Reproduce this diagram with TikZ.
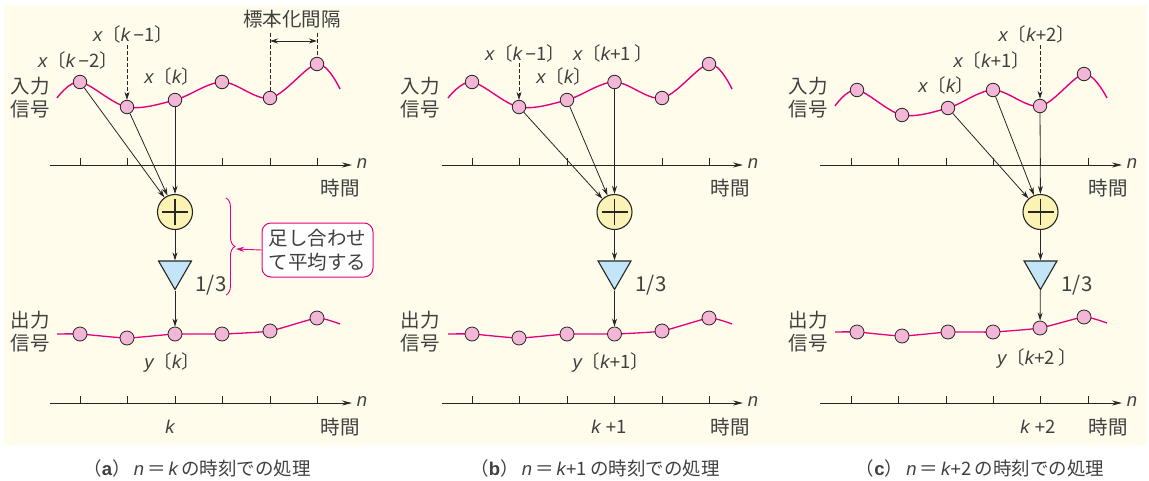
\documentclass[tikz,border=0pt]{standalone}
\usepackage{fontspec}
\setmainfont{Noto Sans CJK JP}
\newfontfamily\latf{Liberation Sans}
\usetikzlibrary{arrows.meta,shapes.geometric,decorations.pathreplacing}
\definecolor{bgcream}{HTML}{FFFCEB}
\definecolor{sigpink}{HTML}{E4007F}
\definecolor{ptpink}{HTML}{F4B6D6}
\definecolor{addyel}{HTML}{FBF3B3}
\definecolor{ampblue}{HTML}{C3E5F8}
\definecolor{ink}{HTML}{262626}
\definecolor{txt}{HTML}{404040}
\newcommand{\vi}[1]{{\latf\itshape #1}}
\newcommand{\lb}{〔}
\newcommand{\rb}{〕}
\newcommand{\mn}{\,{\latf −}}
\newcommand{\pl}{{\latf +}}
\begin{document}
\begin{tikzpicture}[x=1pt,y=-1pt,
  sig/.style={draw=sigpink,line width=1.4pt},
  smp/.style={circle,draw=ink,fill=ptpink,minimum size=13.5pt,inner sep=0pt,line width=0.8pt},
  osmp/.style={circle,draw=ink,fill=ptpink,minimum size=14pt,inner sep=0pt,line width=0.8pt},
  adder/.style={circle,draw=ink,fill=addyel,minimum size=35pt,inner sep=0pt,line width=1.1pt},
  amp/.style={regular polygon,regular polygon sides=3,shape border rotate=180,draw=ink,fill=ampblue,minimum size=38pt,inner sep=0pt,line width=1.1pt},
  conn/.style={draw=ink,line width=0.8pt,-{Stealth[length=8pt,width=5pt]}},
  dconn/.style={draw=ink,line width=0.8pt,dash pattern=on 3.5pt off 2.5pt,-{Stealth[length=8pt,width=5pt]}},
  dline/.style={draw=ink,line width=0.8pt,dash pattern=on 3.5pt off 2.5pt},
  axis/.style={draw=ink,line width=0.8pt,-{Stealth[length=10pt,width=5pt]}},
  tickln/.style={draw=ink,line width=0.7pt},
  lab/.style={text=txt,font=\fontsize{18.5}{20}\selectfont,inner sep=0pt},
  nlab/.style={text=txt,font=\fontsize{18.5}{20}\selectfont,inner sep=0pt},
  jlab/.style={text=txt,font=\fontsize{19.5}{23}\selectfont,inner sep=0pt,align=center},
  glab/.style={text=txt,font=\fontsize{20.5}{22}\selectfont,inner sep=0pt},
  captxt/.style={text=txt,font=\fontsize{18.5}{20}\selectfont,inner sep=0pt},
]
\useasboundingbox (0,0) rectangle (1149,480);
\fill[bgcream] (4,5) rectangle (1146,445);

% ================= panel (a) =================
\draw[sig] plot[smooth,tension=0.55] coordinates {(57,98) (80,82) (127,107) (175,100) (222,82) (270,98) (317,64) (340,89)};
\node[smp] (a1) at (80,82) {};
\node[smp] (a2) at (127,107) {};
\node[smp] (a3) at (175,100) {};
\node[smp] (a4) at (222,82) {};
\node[smp] (a5) at (270,98) {};
\node[smp] (a6) at (317,64) {};
\node[jlab] (inA) at (30,97.5) {入力\\信号};
\node[lab] (la1) at (78,60) {\vi{x}\lb\vi{k}\mn2\rb};
\node[lab] (la2) at (133,34) {\vi{x}\lb\vi{k}\mn1\rb};
\node[lab] (la3) at (172,76) {\vi{x}\lb\vi{k}\rb};
\coordinate (da2) at (127,45);
\draw[dconn] (da2) -- (a2);
\node[jlab] (hyo) at (292,19) {標本化間隔};
\coordinate (ia5) at (270,33);
\coordinate (ia6) at (317,33);
\draw[dline] (ia5) -- (a5);
\draw[dline] (ia6) -- (a6);
\coordinate (ha5) at (270,41);
\coordinate (ha6) at (317,41);
\draw[draw=ink,line width=0.8pt,{Stealth[length=8pt,width=5pt]}-{Stealth[length=8pt,width=5pt]}] (ha5) -- (ha6);
\coordinate (axAs) at (50,165); \coordinate (axAe) at (352,165);
\draw[axis] (axAs) -- (axAe);
\foreach \t in {80,127.5,175,222.5,270,317} \draw[tickln] (\t,158) -- (\t,165);
\node[nlab] (nA) at (362,164) {\vi{n}};
\node[jlab] (tA) at (340,188) {時間};
\node[adder] (addA) at (175,212) {};
\draw[ink,line width=1.2pt] (162,212) -- (188,212) (175,199) -- (175,225);
\draw[conn] (a1) -- (addA);
\draw[conn] (a2) -- (addA);
\draw[conn] (a3) -- (addA);
\node[amp] (ampA) at (175,270.5) {};
\node[glab] (gA) at (211,285) {1/3};
\draw[conn] (addA) -- (ampA);
\draw[sig,line width=1.3pt] plot[smooth,tension=0.3] coordinates {(57,334) (80,334) (127,338) (175,334) (222,334) (270,331) (317,318) (340,324)};
\node[osmp] (ya1) at (80,334) {};
\node[osmp] (ya2) at (127,338) {};
\node[osmp] (ya3) at (175,334) {};
\node[osmp] (ya4) at (222,334) {};
\node[osmp] (ya5) at (270,331) {};
\node[osmp] (ya6) at (317,318) {};
\draw[conn] (ampA) -- (ya3);
\node[jlab] (outA) at (30,331.5) {出力\\信号};
\node[lab] (lya) at (172,362) {\vi{y}\lb\vi{k}\rb};
\coordinate (bxAs) at (50,403); \coordinate (bxAe) at (352,403);
\draw[axis] (bxAs) -- (bxAe);
\foreach \t in {80,127.5,175,222.5,270,317} \draw[tickln] (\t,396) -- (\t,403);
\node[nlab] (nA2) at (362,402) {\vi{n}};
\node[jlab] (tA2) at (340,427) {時間};
\node[lab] (kA) at (170,427) {\vi{k}};
% brace and note
\coordinate (brT) at (226,198);
\coordinate (brB) at (226,295);
\draw[sigpink,line width=0.9pt,decorate,decoration={brace,amplitude=9pt}] (brT) -- (brB);
\coordinate (brTip) at (236,249);
\node[draw=sigpink,fill=white,rounded corners=9pt,line width=1pt,minimum width=111pt,minimum height=54pt,
  text=txt,font=\fontsize{19.5}{23.5}\selectfont,align=left,inner sep=0pt] (note) at (317.5,250) {足し合わせ\\て平均する};
\draw[draw=sigpink,line width=0.9pt,-{Stealth[length=8pt,width=5pt]}] (note.west) -- (brTip);

% ================= panel (b) =================
\draw[sig] plot[smooth,tension=0.55] coordinates {(448,98) (472,82) (519,107) (567,100) (614,82) (662,98) (709,64) (732,89)};
\node[smp] (b1) at (472,82) {};
\node[smp] (b2) at (519,107) {};
\node[smp] (b3) at (567,100) {};
\node[smp] (b4) at (614.5,82) {};
\node[smp] (b5) at (662,98) {};
\node[smp] (b6) at (709,64) {};
\node[jlab] (inB) at (420,97.5) {入力\\信号};
\node[lab] (lb2) at (525,53) {\vi{x}\lb\vi{k}\mn1\rb};
\node[lab] (lb4) at (613,53) {\vi{x}\lb\vi{k}\pl1\,\rb};
\node[lab] (lb3) at (564,76) {\vi{x}\lb\vi{k}\rb};
\coordinate (db2) at (519,63);
\draw[dconn] (db2) -- (b2);
\coordinate (axBs) at (442,165); \coordinate (axBe) at (743,165);
\draw[axis] (axBs) -- (axBe);
\foreach \t in {472,519.5,567,614.5,662,709.5} \draw[tickln] (\t,158) -- (\t,165);
\node[nlab] (nB) at (753,164) {\vi{n}};
\node[jlab] (tB) at (730,188) {時間};
\node[adder] (addB) at (614.5,212) {};
\draw[ink,line width=1.2pt] (601.5,212) -- (627.5,212) (614.5,199) -- (614.5,225);
\draw[conn] (b2) -- (addB);
\draw[conn] (b3) -- (addB);
\draw[conn] (b4) -- (addB);
\node[amp] (ampB) at (614.5,270.5) {};
\node[glab] (gB) at (651,285) {1/3};
\draw[conn] (addB) -- (ampB);
\draw[sig,line width=1.3pt] plot[smooth,tension=0.3] coordinates {(448,334) (472,334) (519,338) (567,334) (614.5,334) (662,331) (709,318) (732,324)};
\node[osmp] (yb1) at (472,334) {};
\node[osmp] (yb2) at (519,338) {};
\node[osmp] (yb3) at (567,334) {};
\node[osmp] (yb4) at (614.5,334) {};
\node[osmp] (yb5) at (662,331) {};
\node[osmp] (yb6) at (709,318) {};
\draw[conn] (ampB) -- (yb4);
\node[jlab] (outB) at (420,331.5) {出力\\信号};
\node[lab] (lyb) at (611,362) {\vi{y}\lb\vi{k}\pl1\rb};
\coordinate (bxBs) at (442,403); \coordinate (bxBe) at (743,403);
\draw[axis] (bxBs) -- (bxBe);
\foreach \t in {472,519.5,567,614.5,662,709.5} \draw[tickln] (\t,396) -- (\t,403);
\node[nlab] (nB2) at (753,402) {\vi{n}};
\node[jlab] (tB2) at (730,427) {時間};
\node[lab] (kB) at (609,427) {\vi{k}\;\pl1};

% ================= panel (c) =================
\draw[sig] plot[smooth,tension=0.55] coordinates {(835,106) (857,90) (902,115) (948,108) (993,90) (1040,106) (1084,74) (1107,98)};
\node[smp] (c1) at (857,90) {};
\node[smp] (c2) at (902,115) {};
\node[smp] (c3) at (948,108) {};
\node[smp] (c4) at (993,90) {};
\node[smp] (c5) at (1040,106) {};
\node[smp] (c6) at (1084,74) {};
\node[jlab] (inC) at (808,97.5) {入力\\信号};
\node[lab] (lc5) at (1037,34) {\vi{x}\lb\vi{k}\pl2\rb};
\node[lab] (lc4) at (992,60) {\vi{x}\lb\vi{k}\pl1\rb};
\node[lab] (lc3) at (946,85) {\vi{x}\lb\vi{k}\rb};
\coordinate (dc5) at (1040,45);
\draw[dconn] (dc5) -- (c5);
\coordinate (axCs) at (820,165); \coordinate (axCe) at (1122,165);
\draw[axis] (axCs) -- (axCe);
\foreach \t in {851,898,946,993,1040,1088} \draw[tickln] (\t,158) -- (\t,165);
\node[nlab] (nC) at (1132,164) {\vi{n}};
\node[jlab] (tC) at (1108,188) {時間};
\node[adder] (addC) at (1040.5,212) {};
\draw[ink,line width=1.2pt] (1027.5,212) -- (1053.5,212) (1040.5,199) -- (1040.5,225);
\draw[conn] (c3) -- (addC);
\draw[conn] (c4) -- (addC);
\draw[conn] (c5) -- (addC);
\node[amp] (ampC) at (1040.5,270.5) {};
\node[glab] (gC) at (1077,285) {1/3};
\draw[conn] (addC) -- (ampC);
\draw[sig,line width=1.3pt] plot[smooth,tension=0.3] coordinates {(835,332) (857,332) (902,336) (948,332) (993,332) (1040,328) (1084,317) (1107,323)};
\node[osmp] (yc1) at (857,332) {};
\node[osmp] (yc2) at (902,336) {};
\node[osmp] (yc3) at (948,332) {};
\node[osmp] (yc4) at (993,332) {};
\node[osmp] (yc5) at (1040,328) {};
\node[osmp] (yc6) at (1084,317) {};
\draw[conn] (ampC) -- (yc5);
\node[jlab] (outC) at (808,331.5) {出力\\信号};
\node[lab] (lyc) at (1037,358) {\vi{y}\lb\vi{k}\pl2\,\rb};
\coordinate (bxCs) at (820,403); \coordinate (bxCe) at (1122,403);
\draw[axis] (bxCs) -- (bxCe);
\foreach \t in {851,898,946,993,1040,1088} \draw[tickln] (\t,396) -- (\t,403);
\node[nlab] (nC2) at (1132,402) {\vi{n}};
\node[jlab] (tC2) at (1108,427) {時間};
\node[lab] (kC) at (1038,427) {\vi{k}\;\pl2};

% ================= captions =================
\node[captxt] (capA) at (197,468) {（{\latf\bfseries a}）\,\vi{n}\,＝\,\vi{k}\,の時刻での処理};
\node[captxt] (capB) at (595,468) {（{\latf\bfseries b}）\,\vi{n}\,＝\,\vi{k}\pl1\,の時刻での処理};
\node[captxt] (capC) at (980,468) {（{\latf\bfseries c}）\,\vi{n}\,＝\,\vi{k}\pl2\,の時刻での処理};
\end{tikzpicture}
\end{document}
